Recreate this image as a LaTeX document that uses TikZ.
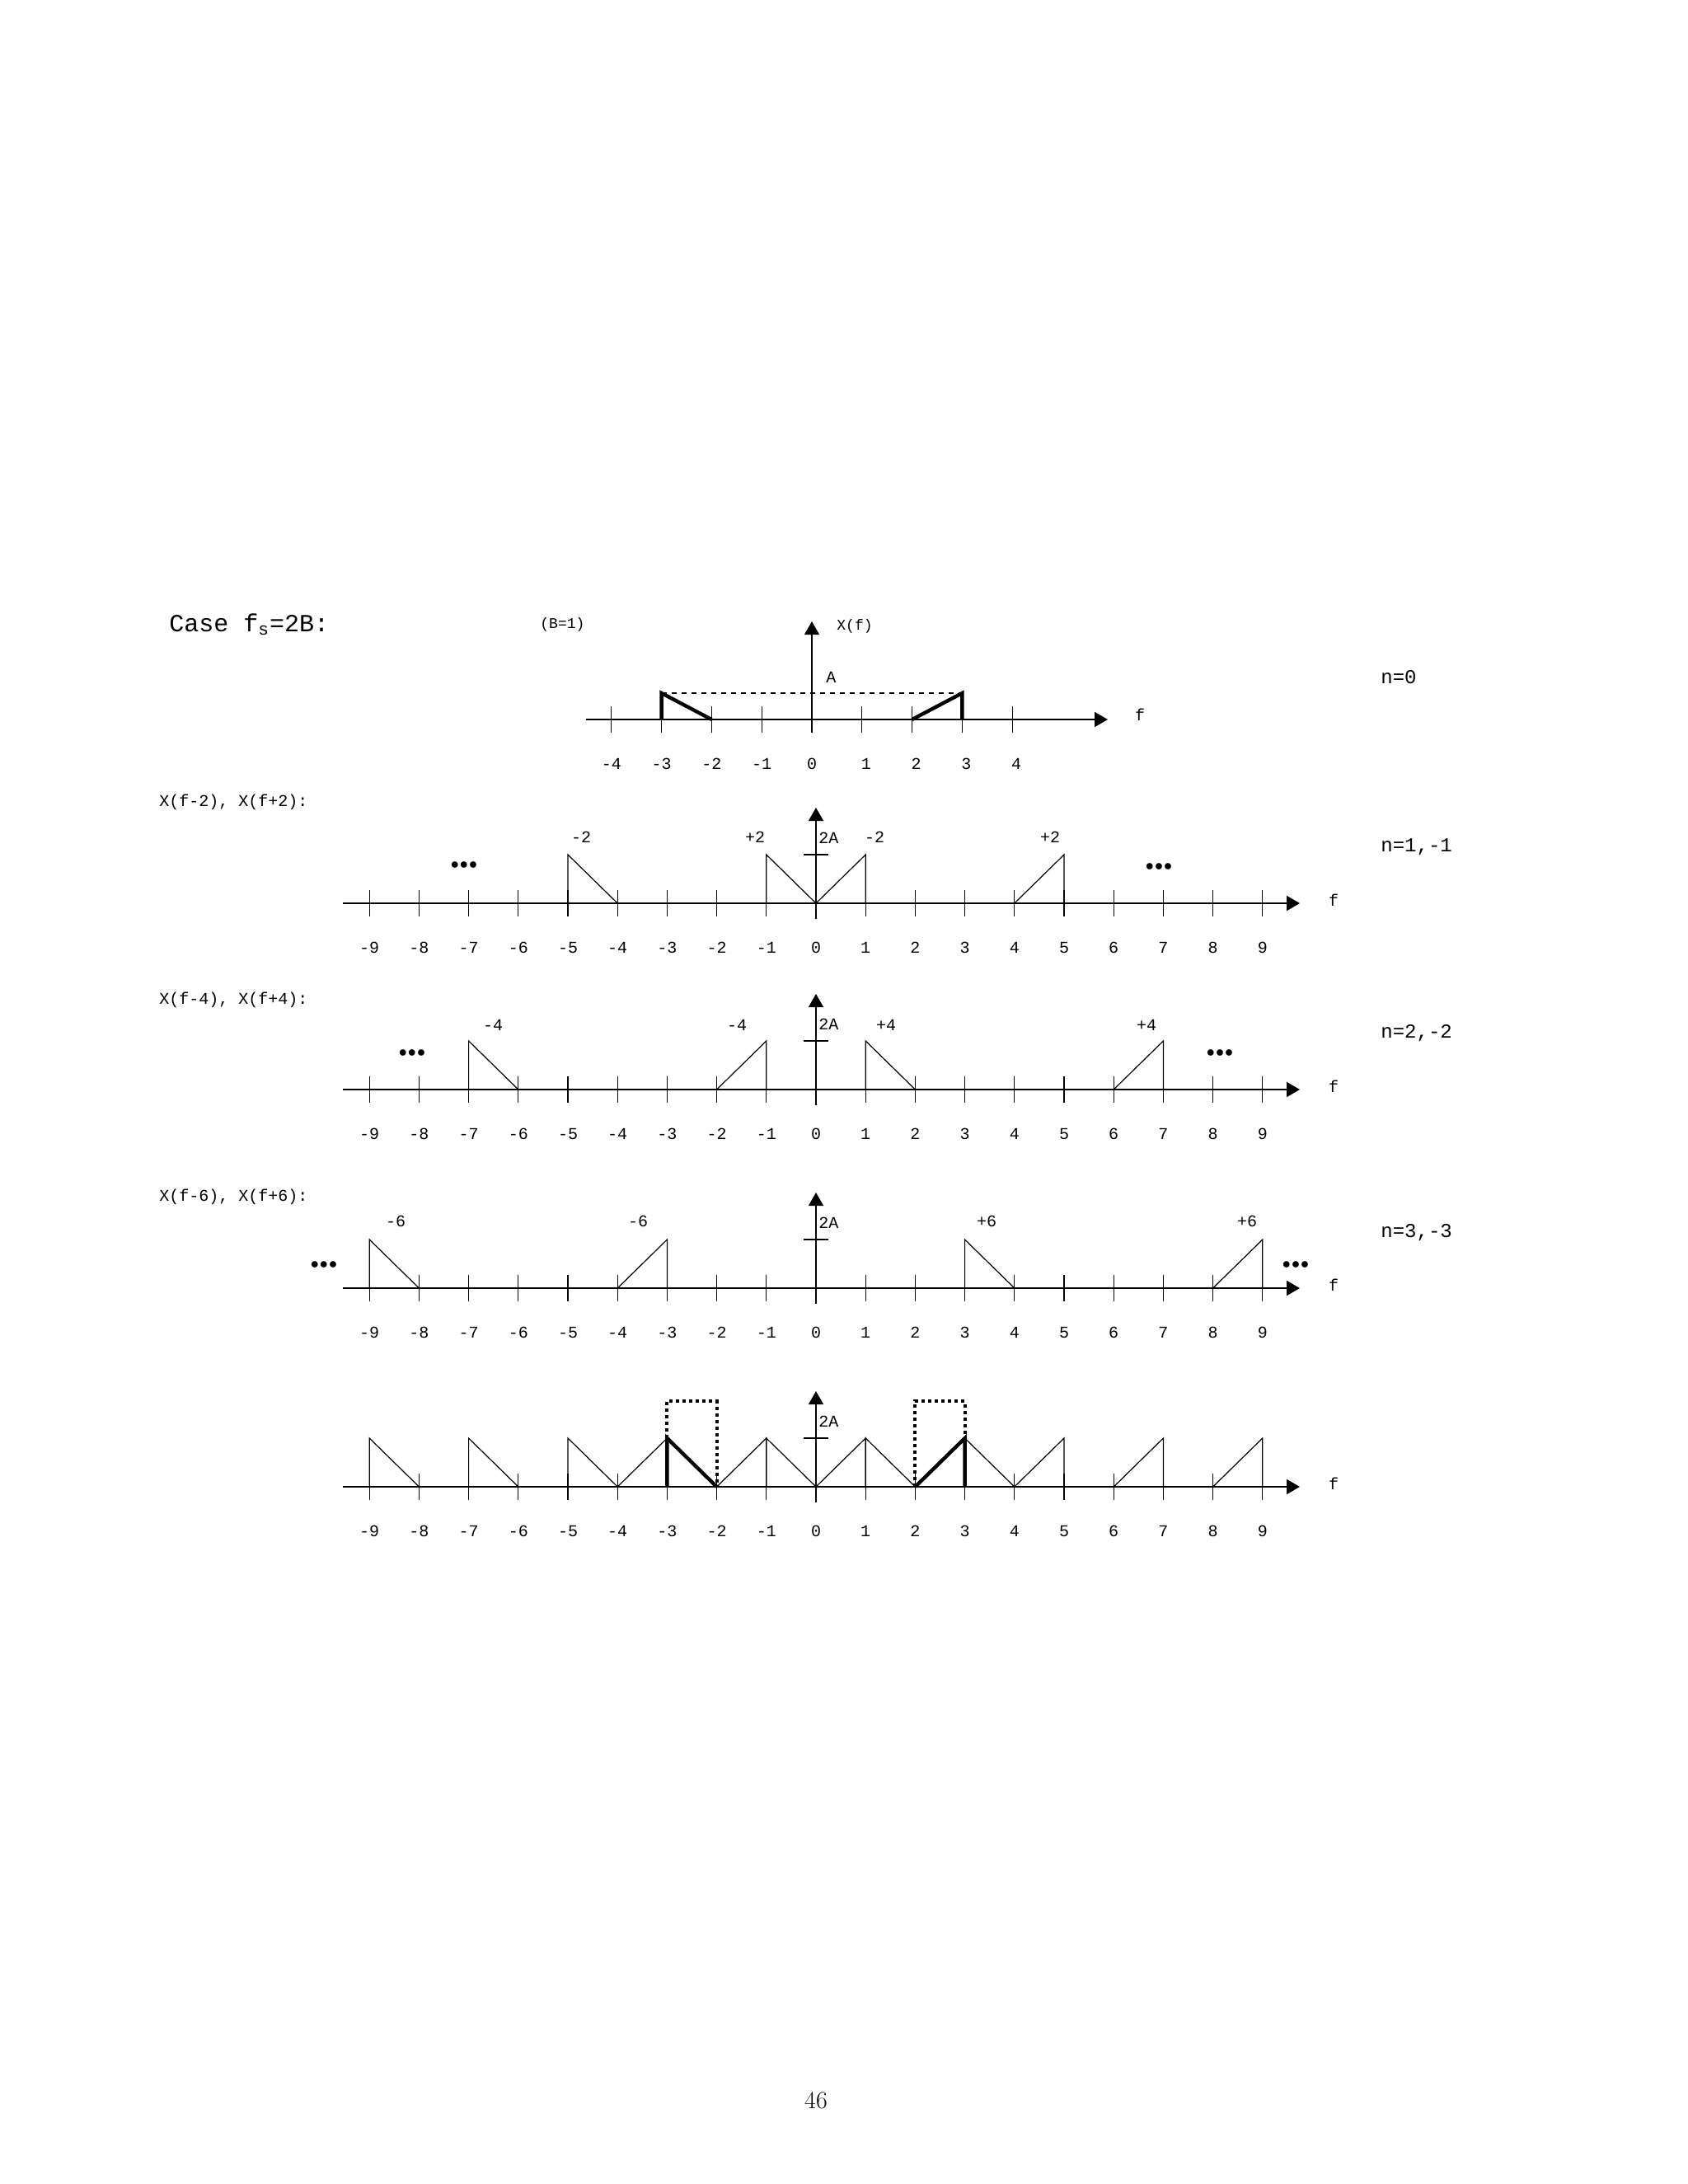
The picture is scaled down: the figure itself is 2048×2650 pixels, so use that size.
\documentclass[tikz,border=0pt]{standalone}
\usepackage{fontspec}
\setmonofont{Liberation Mono}
\usetikzlibrary{arrows.meta}
\tikzset{
  axl/.style={line width=1.1pt,-{Triangle[length=8pt,width=9pt]}},
  thn/.style={line width=0.6pt},
  thk/.style={line width=2.2pt},
  tl/.style={font=\ttfamily\fontsize{10}{10}\selectfont,inner sep=0pt},
  sl/.style={font=\ttfamily\fontsize{9}{9}\selectfont,inner sep=0pt},
  nl/.style={font=\ttfamily\fontsize{12}{12}\selectfont,inner sep=0pt,anchor=west},
  dts/.style={font=\fontsize{10}{10}\selectfont,inner sep=0pt},
}
\newcommand\fall[3][thn]{\draw[#1] ({\u*#2},0) -- ({\u*#2},-#3) -- ({\u*(#2+1)},0);}
\newcommand\rise[3][thn]{\draw[#1] ({\u*#2},0) -- ({\u*(#2+1)},-#3) -- ({\u*(#2+1)},0);}
\newcommand\rowaxis{%
  \draw[axl] (-574,0) -- (587,0);
  \foreach \k in {-9,...,9} {\draw[thn] ({\u*\k},-16) -- ({\u*\k},16);
    \node[tl] at ({\u*\k},54) {\k};}
  \draw[axl,line width=0.6pt] (0,19) -- (0,-116);
  \draw[thn] (-15,-59) -- (15,-59);
  \node[tl,anchor=west] (twoa) at (3,-79) {2A};
  \node[tl] (fl) at (628,-4) {f};
}
\begin{document}
\begin{tikzpicture}[x=0.5pt,y=-0.5pt]
\useasboundingbox (0,0) rectangle (2048,2650);
% Row 1
\node[font=\ttfamily\fontsize{15}{15}\selectfont,inner sep=0pt,anchor=west] (case) at (205,758) {Case f\textsubscript{s}=2B:};
\node[sl,anchor=west] (b1) at (655,758) {(B=1)};
\node[nl] (n0) at (1675,822) {n=0};
\begin{scope}[shift={(985,873)}]
\def\u{60.8}
\draw[axl] (-274,0) -- (359,0);
\foreach \k in {-4,...,4} {\draw[thn] ({\u*\k},-16) -- ({\u*\k},16);
  \node[tl] at ({\u*\k+(\k>0?5:0)},54) {\k};}
\draw[axl,line width=0.6pt] (0,16) -- (0,-119);
\node[sl,anchor=west] (xf) at (30,-113) {X(f)};
\node[tl,anchor=west] (a) at (17,-51) {A};
\draw[dashed,thn] ({\u*-3},-32) -- ({\u*3},-32);
\fall[thk]{-3}{32}
\rise[thk]{2}{32}
\node[tl] (f1) at (398,-6) {f};
\end{scope}
% Row 2
\node[tl,anchor=west] (r2) at (193,973) {X(f-2), X(f+2):};
\node[nl] (n1) at (1675,1028) {n=1,-1};
\begin{scope}[shift={(990,1096)}]
\def\u{60.2}
\rowaxis
\fall{-5}{59}\fall{-1}{59}\rise{0}{59}\rise{4}{59}
\node[tl] at (-285,-80) {-2};
\node[tl] at (-74,-80) {+2};
\node[tl] at (71,-80) {-2};
\node[tl] at (284,-80) {+2};
\node[dts] at (-427,-46) {$\bullet\!\bullet\!\bullet$};
\node[dts] at (416,-44) {$\bullet\!\bullet\!\bullet$};
\end{scope}
% Row 3
\node[tl,anchor=west] (r3) at (193,1213) {X(f-4), X(f+4):};
\node[nl] (n2) at (1675,1254) {n=2,-2};
\begin{scope}[shift={(990,1322)}]
\def\u{60.2}
\rowaxis
\fall{-7}{59}\fall{1}{59}\rise{-2}{59}\rise{6}{59}
\node[tl] at (-392,-78) {-4};
\node[tl] at (-96,-78) {-4};
\node[tl] at (85,-78) {+4};
\node[tl] at (401,-78) {+4};
\node[dts] at (-490,-44) {$\bullet\!\bullet\!\bullet$};
\node[dts] at (490,-44) {$\bullet\!\bullet\!\bullet$};
\end{scope}
% Row 4
\node[tl,anchor=west] (r4) at (193,1452) {X(f-6), X(f+6):};
\node[nl] (n3) at (1675,1496) {n=3,-3};
\begin{scope}[shift={(990,1563)}]
\def\u{60.2}
\rowaxis
\fall{-9}{59}\fall{3}{59}\rise{-4}{59}\rise{8}{59}
\node[tl] at (-510,-81) {-6};
\node[tl] at (-216,-81) {-6};
\node[tl] at (207,-81) {+6};
\node[tl] at (523,-81) {+6};
\node[dts] at (-597,-28) {$\bullet\!\bullet\!\bullet$};
\node[dts] at (582,-28) {$\bullet\!\bullet\!\bullet$};
\end{scope}
% Row 5
\begin{scope}[shift={(990,1804)}]
\def\u{60.2}
\rowaxis
\foreach \a in {-9,-7,-5,-1,1,3} {\fall{\a}{59}}
\foreach \a in {-4,-2,0,4,6,8} {\rise{\a}{59}}
\fall[thk]{-3}{59}
\rise[thk]{2}{59}
\draw[dotted,line width=2pt] ({\u*-3},-59) -- ({\u*-3},-104) -- ({\u*-2},-104) -- ({\u*-2},0);
\draw[dotted,line width=2pt] ({\u*2},0) -- ({\u*2},-104) -- ({\u*3},-104) -- ({\u*3},-59);
\end{scope}
\node[font=\fontsize{15}{15}\selectfont,inner sep=0pt] (pg) at (990,2549) {46};
\end{tikzpicture}
\end{document}
